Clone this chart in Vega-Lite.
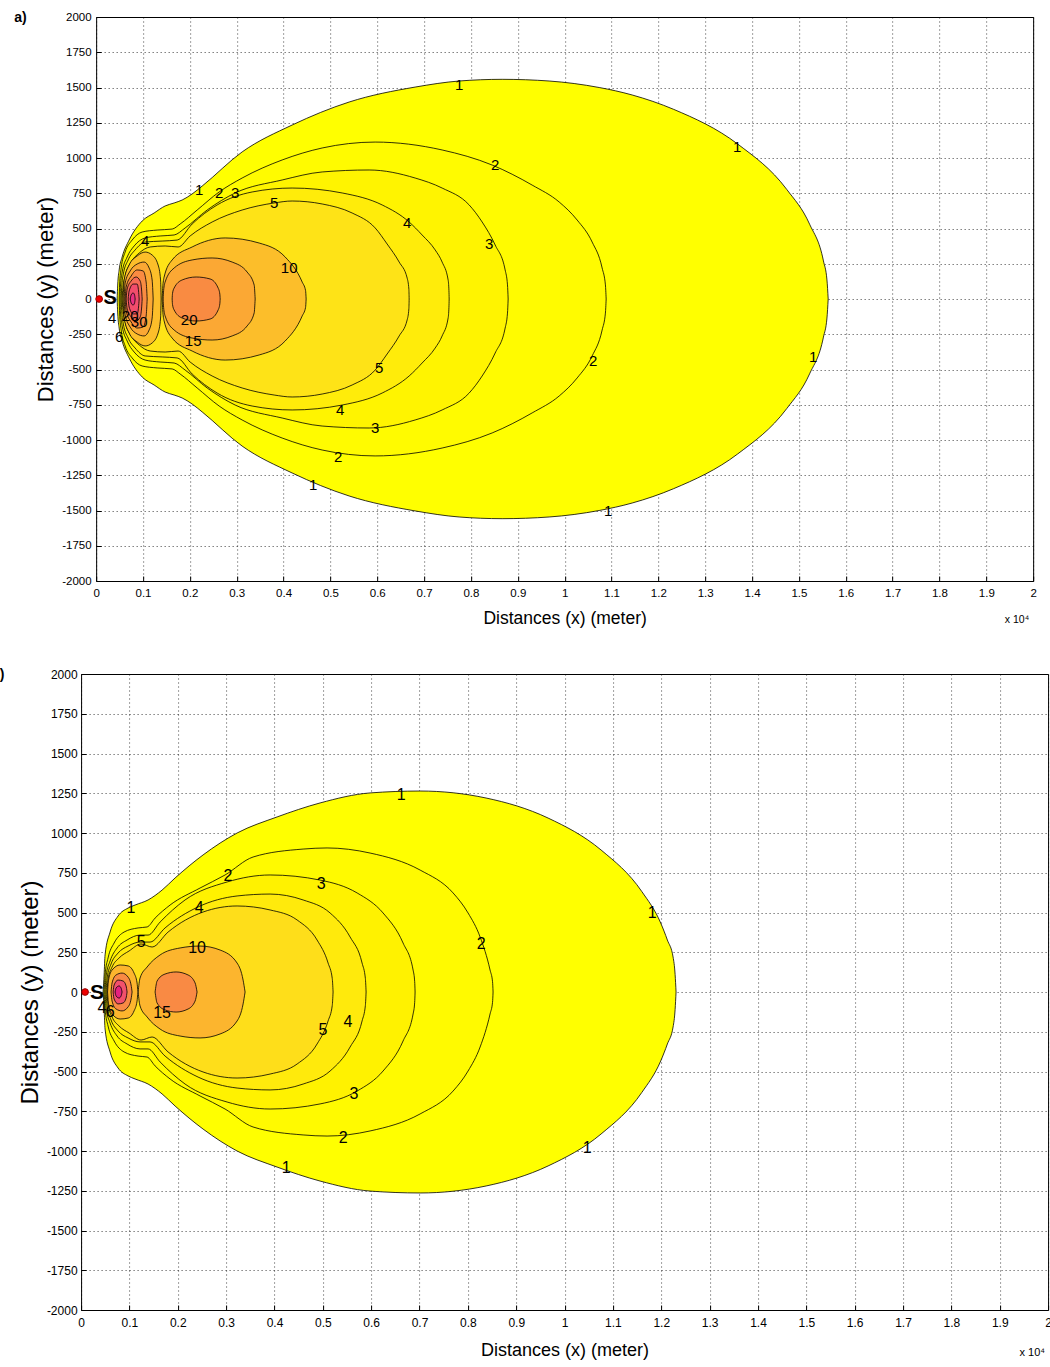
{
  "$schema": "https://vega.github.io/schema/vega-lite/v6.json",
  "padding": {"left": -10, "top": 10, "right": 0, "bottom": 0},
  "background": "white",
  "spacing": 39,
  "center": true,
  "config": {
    "view": {"stroke": "#000", "strokeWidth": 1},
    "axis": {
      "labelFont": "Liberation Sans", "labelFontSize": 11.5, "labelColor": "#000",
      "titleColor": "#000", "titleFontWeight": "normal",
      "grid": true, "gridColor": "#000", "gridDash": [1, 3], "gridOpacity": 0.75, "gridWidth": 1,
      "domain": false, "ticks": true, "tickColor": "#000", "tickSize": -5, "tickWidth": 1,
      "labelFlush": false, "labelOverlap": false, "zindex": 1
    }
  },
  "datasets": {
    "ca": [
      {"c":"a1","l":1,"x":448,"y":0,"y2":0},{"c":"a1","l":1,"x":460,"y":99,"y2":-99},{"c":"a1","l":1,"x":491,"y":206,"y2":-206},{"c":"a1","l":1,"x":555,"y":298,"y2":-298},{"c":"a1","l":1,"x":704,"y":418,"y2":-418},{"c":"a1","l":1,"x":982,"y":553,"y2":-553},{"c":"a1","l":1,"x":1238,"y":610,"y2":-610},{"c":"a1","l":1,"x":1473,"y":660,"y2":-660},{"c":"a1","l":1,"x":1665,"y":681,"y2":-681},{"c":"a1","l":1,"x":1836,"y":702,"y2":-702},{"c":"a1","l":1,"x":2049,"y":745,"y2":-745},{"c":"a1","l":1,"x":2263,"y":801,"y2":-801},{"c":"a1","l":1,"x":3116,"y":1043,"y2":-1043},{"c":"a1","l":1,"x":4184,"y":1234,"y2":-1234},{"c":"a1","l":1,"x":5400,"y":1397,"y2":-1397},{"c":"a1","l":1,"x":6809,"y":1503,"y2":-1503},{"c":"a1","l":1,"x":7748,"y":1546,"y2":-1546},{"c":"a1","l":1,"x":8666,"y":1558,"y2":-1558},{"c":"a1","l":1,"x":9669,"y":1546,"y2":-1546},{"c":"a1","l":1,"x":10737,"y":1500,"y2":-1500},{"c":"a1","l":1,"x":11441,"y":1447,"y2":-1447},{"c":"a1","l":1,"x":12327,"y":1345,"y2":-1345},{"c":"a1","l":1,"x":13693,"y":1099,"y2":-1099},{"c":"a1","l":1,"x":14741,"y":777,"y2":-777},{"c":"a1","l":1,"x":15228,"y":531,"y2":-531},{"c":"a1","l":1,"x":15524,"y":270,"y2":-270},{"c":"a1","l":1,"x":15599,"y":135,"y2":-135},{"c":"a1","l":1,"x":15625,"y":0,"y2":0},
      {"c":"a2","l":2,"x":491,"y":0,"y2":0},{"c":"a2","l":2,"x":500,"y":99,"y2":-99},{"c":"a2","l":2,"x":534,"y":220,"y2":-220},{"c":"a2","l":2,"x":619,"y":333,"y2":-333},{"c":"a2","l":2,"x":768,"y":418,"y2":-418},{"c":"a2","l":2,"x":982,"y":475,"y2":-475},{"c":"a2","l":2,"x":1302,"y":489,"y2":-489},{"c":"a2","l":2,"x":1622,"y":496,"y2":-496},{"c":"a2","l":2,"x":1793,"y":532,"y2":-532},{"c":"a2","l":2,"x":2156,"y":631,"y2":-631},{"c":"a2","l":2,"x":2625,"y":759,"y2":-759},{"c":"a2","l":2,"x":3116,"y":858,"y2":-858},{"c":"a2","l":2,"x":3970,"y":986,"y2":-986},{"c":"a2","l":2,"x":4824,"y":1071,"y2":-1071},{"c":"a2","l":2,"x":5955,"y":1113,"y2":-1113},{"c":"a2","l":2,"x":7385,"y":1057,"y2":-1057},{"c":"a2","l":2,"x":8453,"y":950,"y2":-950},{"c":"a2","l":2,"x":9306,"y":808,"y2":-808},{"c":"a2","l":2,"x":9883,"y":688,"y2":-688},{"c":"a2","l":2,"x":10267,"y":560,"y2":-560},{"c":"a2","l":2,"x":10587,"y":404,"y2":-404},{"c":"a2","l":2,"x":10800,"y":220,"y2":-220},{"c":"a2","l":2,"x":10870,"y":100,"y2":-100},{"c":"a2","l":2,"x":10886,"y":0,"y2":0},
      {"c":"a3","l":3,"x":512,"y":0,"y2":0},{"c":"a3","l":3,"x":520,"y":90,"y2":-90},{"c":"a3","l":3,"x":555,"y":191,"y2":-191},{"c":"a3","l":3,"x":662,"y":298,"y2":-298},{"c":"a3","l":3,"x":811,"y":376,"y2":-376},{"c":"a3","l":3,"x":1046,"y":433,"y2":-433},{"c":"a3","l":3,"x":1366,"y":447,"y2":-447},{"c":"a3","l":3,"x":1665,"y":454,"y2":-454},{"c":"a3","l":3,"x":1900,"y":504,"y2":-504},{"c":"a3","l":3,"x":2369,"y":631,"y2":-631},{"c":"a3","l":3,"x":2967,"y":752,"y2":-752},{"c":"a3","l":3,"x":3970,"y":844,"y2":-844},{"c":"a3","l":3,"x":4824,"y":901,"y2":-901},{"c":"a3","l":3,"x":5827,"y":915,"y2":-915},{"c":"a3","l":3,"x":6809,"y":858,"y2":-858},{"c":"a3","l":3,"x":7385,"y":787,"y2":-787},{"c":"a3","l":3,"x":7962,"y":667,"y2":-667},{"c":"a3","l":3,"x":8239,"y":546,"y2":-546},{"c":"a3","l":3,"x":8517,"y":383,"y2":-383},{"c":"a3","l":3,"x":8730,"y":206,"y2":-206},{"c":"a3","l":3,"x":8780,"y":100,"y2":-100},{"c":"a3","l":3,"x":8794,"y":0,"y2":0},
      {"c":"a4","l":4,"x":534,"y":0,"y2":0},{"c":"a4","l":4,"x":545,"y":80,"y2":-80},{"c":"a4","l":4,"x":576,"y":170,"y2":-170},{"c":"a4","l":4,"x":683,"y":277,"y2":-277},{"c":"a4","l":4,"x":832,"y":348,"y2":-348},{"c":"a4","l":4,"x":1046,"y":404,"y2":-404},{"c":"a4","l":4,"x":1409,"y":411,"y2":-411},{"c":"a4","l":4,"x":1729,"y":418,"y2":-418},{"c":"a4","l":4,"x":2049,"y":532,"y2":-532},{"c":"a4","l":4,"x":2583,"y":667,"y2":-667},{"c":"a4","l":4,"x":3330,"y":759,"y2":-759},{"c":"a4","l":4,"x":4184,"y":787,"y2":-787},{"c":"a4","l":4,"x":5251,"y":752,"y2":-752},{"c":"a4","l":4,"x":6105,"y":667,"y2":-667},{"c":"a4","l":4,"x":6681,"y":546,"y2":-546},{"c":"a4","l":4,"x":6958,"y":454,"y2":-454},{"c":"a4","l":4,"x":7236,"y":348,"y2":-348},{"c":"a4","l":4,"x":7385,"y":262,"y2":-262},{"c":"a4","l":4,"x":7513,"y":135,"y2":-135},{"c":"a4","l":4,"x":7530,"y":60,"y2":-60},{"c":"a4","l":4,"x":7535,"y":0,"y2":0},
      {"c":"a5","l":5,"x":555,"y":0,"y2":0},{"c":"a5","l":5,"x":570,"y":75,"y2":-75},{"c":"a5","l":5,"x":619,"y":163,"y2":-163},{"c":"a5","l":5,"x":747,"y":262,"y2":-262},{"c":"a5","l":5,"x":918,"y":326,"y2":-326},{"c":"a5","l":5,"x":1153,"y":369,"y2":-369},{"c":"a5","l":5,"x":1473,"y":376,"y2":-376},{"c":"a5","l":5,"x":1750,"y":369,"y2":-369},{"c":"a5","l":5,"x":2006,"y":447,"y2":-447},{"c":"a5","l":5,"x":2476,"y":546,"y2":-546},{"c":"a5","l":5,"x":3116,"y":631,"y2":-631},{"c":"a5","l":5,"x":3799,"y":681,"y2":-681},{"c":"a5","l":5,"x":4184,"y":695,"y2":-695},{"c":"a5","l":5,"x":4824,"y":674,"y2":-674},{"c":"a5","l":5,"x":5464,"y":610,"y2":-610},{"c":"a5","l":5,"x":5955,"y":504,"y2":-504},{"c":"a5","l":5,"x":6211,"y":390,"y2":-390},{"c":"a5","l":5,"x":6468,"y":262,"y2":-262},{"c":"a5","l":5,"x":6638,"y":149,"y2":-149},{"c":"a5","l":5,"x":6675,"y":70,"y2":-70},{"c":"a5","l":5,"x":6681,"y":0,"y2":0},
      {"c":"a10f","l":10,"x":1409,"y":0,"y2":0},{"c":"a10f","l":10,"x":1420,"y":75,"y2":-75},{"c":"a10f","l":10,"x":1451,"y":156,"y2":-156},{"c":"a10f","l":10,"x":1622,"y":277,"y2":-277},{"c":"a10f","l":10,"x":2049,"y":369,"y2":-369},{"c":"a10f","l":10,"x":2754,"y":433,"y2":-433},{"c":"a10f","l":10,"x":3479,"y":397,"y2":-397},{"c":"a10f","l":10,"x":4034,"y":298,"y2":-298},{"c":"a10f","l":10,"x":4397,"y":121,"y2":-121},{"c":"a10f","l":10,"x":4470,"y":60,"y2":-60},{"c":"a10f","l":10,"x":4482,"y":0,"y2":0},
      {"c":"a10n","l":10,"x":576,"y":0,"y2":0},{"c":"a10n","l":10,"x":598,"y":135,"y2":-135},{"c":"a10n","l":10,"x":704,"y":241,"y2":-241},{"c":"a10n","l":10,"x":875,"y":305,"y2":-305},{"c":"a10n","l":10,"x":1046,"y":333,"y2":-333},{"c":"a10n","l":10,"x":1195,"y":312,"y2":-312},{"c":"a10n","l":10,"x":1323,"y":241,"y2":-241},{"c":"a10n","l":10,"x":1375,"y":135,"y2":-135},{"c":"a10n","l":10,"x":1387,"y":0,"y2":0},
      {"c":"a15f","l":15,"x":1430,"y":0,"y2":0},{"c":"a15f","l":15,"x":1440,"y":60,"y2":-60},{"c":"a15f","l":15,"x":1473,"y":121,"y2":-121},{"c":"a15f","l":15,"x":1665,"y":220,"y2":-220},{"c":"a15f","l":15,"x":2049,"y":277,"y2":-277},{"c":"a15f","l":15,"x":2476,"y":291,"y2":-291},{"c":"a15f","l":15,"x":2903,"y":262,"y2":-262},{"c":"a15f","l":15,"x":3223,"y":191,"y2":-191},{"c":"a15f","l":15,"x":3373,"y":99,"y2":-99},{"c":"a15f","l":15,"x":3394,"y":0,"y2":0},
      {"c":"a15n","l":15,"x":598,"y":0,"y2":0},{"c":"a15n","l":15,"x":619,"y":113,"y2":-113},{"c":"a15n","l":15,"x":726,"y":199,"y2":-199},{"c":"a15n","l":15,"x":875,"y":248,"y2":-248},{"c":"a15n","l":15,"x":1025,"y":262,"y2":-262},{"c":"a15n","l":15,"x":1131,"y":220,"y2":-220},{"c":"a15n","l":15,"x":1195,"y":135,"y2":-135},{"c":"a15n","l":15,"x":1217,"y":0,"y2":0},
      {"c":"a20f","l":20,"x":1622,"y":0,"y2":0},{"c":"a20f","l":20,"x":1630,"y":40,"y2":-40},{"c":"a20f","l":20,"x":1665,"y":78,"y2":-78},{"c":"a20f","l":20,"x":1836,"y":135,"y2":-135},{"c":"a20f","l":20,"x":2134,"y":156,"y2":-156},{"c":"a20f","l":20,"x":2433,"y":142,"y2":-142},{"c":"a20f","l":20,"x":2604,"y":78,"y2":-78},{"c":"a20f","l":20,"x":2640,"y":35,"y2":-35},{"c":"a20f","l":20,"x":2647,"y":0,"y2":0},
      {"c":"a20n","l":20,"x":619,"y":0,"y2":0},{"c":"a20n","l":20,"x":640,"y":85,"y2":-85},{"c":"a20n","l":20,"x":747,"y":163,"y2":-163},{"c":"a20n","l":20,"x":875,"y":206,"y2":-206},{"c":"a20n","l":20,"x":1003,"y":199,"y2":-199},{"c":"a20n","l":20,"x":1067,"y":121,"y2":-121},{"c":"a20n","l":20,"x":1089,"y":0,"y2":0},
      {"c":"a30","l":30,"x":640,"y":0,"y2":0},{"c":"a30","l":30,"x":662,"y":71,"y2":-71},{"c":"a30","l":30,"x":747,"y":128,"y2":-128},{"c":"a30","l":30,"x":854,"y":156,"y2":-156},{"c":"a30","l":30,"x":939,"y":128,"y2":-128},{"c":"a30","l":30,"x":970,"y":64,"y2":-64},{"c":"a30","l":30,"x":982,"y":0,"y2":0},
      {"c":"a40","l":40,"x":683,"y":0,"y2":0},{"c":"a40","l":40,"x":704,"y":57,"y2":-57},{"c":"a40","l":40,"x":790,"y":106,"y2":-106},{"c":"a40","l":40,"x":875,"y":106,"y2":-106},{"c":"a40","l":40,"x":905,"y":57,"y2":-57},{"c":"a40","l":40,"x":918,"y":0,"y2":0},
      {"c":"a50","l":50,"x":726,"y":0,"y2":0},{"c":"a50","l":50,"x":747,"y":28,"y2":-28},{"c":"a50","l":50,"x":790,"y":43,"y2":-43},{"c":"a50","l":50,"x":820,"y":28,"y2":-28},{"c":"a50","l":50,"x":832,"y":0,"y2":0}
    ],
    "la": [
      {"t":"1","x":2199,"y":773},{"t":"1","x":7748,"y":1518},{"t":"1","x":13682,"y":1078},{"t":"1","x":15304,"y":-411},{"t":"1","x":4632,"y":-1319},{"t":"1","x":10929,"y":-1503},
      {"t":"2","x":2625,"y":752},{"t":"2","x":8517,"y":950},{"t":"2","x":10608,"y":-440},{"t":"2","x":5165,"y":-1121},
      {"t":"3","x":2967,"y":752},{"t":"3","x":8389,"y":390},{"t":"3","x":5955,"y":-915},
      {"t":"4","x":6638,"y":539},{"t":"4","x":5208,"y":-787},{"t":"4","x":1046,"y":411},
      {"t":"5","x":3799,"y":681},{"t":"5","x":6041,"y":-489},
      {"t":"10","x":4120,"y":220},{"t":"20","x":1985,"y":-149},{"t":"15","x":2070,"y":-298},
      {"t":"4","x":342,"y":-135},{"t":"20","x":726,"y":-121},{"t":"6","x":491,"y":-270},{"t":"30","x":918,"y":-163}
    ],
    "cb": [
      {"c":"b1","l":1,"x":455,"y":0,"y2":0},{"c":"b1","l":1,"x":476,"y":107,"y2":-107},{"c":"b1","l":1,"x":496,"y":233,"y2":-233},{"c":"b1","l":1,"x":600,"y":377,"y2":-377},{"c":"b1","l":1,"x":765,"y":478,"y2":-478},{"c":"b1","l":1,"x":972,"y":528,"y2":-528},{"c":"b1","l":1,"x":1117,"y":547,"y2":-547},{"c":"b1","l":1,"x":1386,"y":579,"y2":-579},{"c":"b1","l":1,"x":1675,"y":641,"y2":-641},{"c":"b1","l":1,"x":1944,"y":717,"y2":-717},{"c":"b1","l":1,"x":2523,"y":862,"y2":-862},{"c":"b1","l":1,"x":3227,"y":1000,"y2":-1000},{"c":"b1","l":1,"x":4054,"y":1101,"y2":-1101},{"c":"b1","l":1,"x":4943,"y":1189,"y2":-1189},{"c":"b1","l":1,"x":5977,"y":1252,"y2":-1252},{"c":"b1","l":1,"x":7012,"y":1264,"y2":-1264},{"c":"b1","l":1,"x":8377,"y":1220,"y2":-1220},{"c":"b1","l":1,"x":9659,"y":1094,"y2":-1094},{"c":"b1","l":1,"x":10755,"y":893,"y2":-893},{"c":"b1","l":1,"x":11597,"y":632,"y2":-632},{"c":"b1","l":1,"x":11988,"y":434,"y2":-434},{"c":"b1","l":1,"x":12126,"y":327,"y2":-327},{"c":"b1","l":1,"x":12244,"y":220,"y2":-220},{"c":"b1","l":1,"x":12286,"y":110,"y2":-110},{"c":"b1","l":1,"x":12306,"y":0,"y2":0},
      {"c":"b2","l":2,"x":476,"y":0,"y2":0},{"c":"b2","l":2,"x":496,"y":107,"y2":-107},{"c":"b2","l":2,"x":558,"y":214,"y2":-214},{"c":"b2","l":2,"x":683,"y":308,"y2":-308},{"c":"b2","l":2,"x":889,"y":377,"y2":-377},{"c":"b2","l":2,"x":1179,"y":403,"y2":-403},{"c":"b2","l":2,"x":1365,"y":409,"y2":-409},{"c":"b2","l":2,"x":1531,"y":465,"y2":-465},{"c":"b2","l":2,"x":1841,"y":547,"y2":-547},{"c":"b2","l":2,"x":2461,"y":654,"y2":-654},{"c":"b2","l":2,"x":2978,"y":736,"y2":-736},{"c":"b2","l":2,"x":3557,"y":849,"y2":-849},{"c":"b2","l":2,"x":4592,"y":899,"y2":-899},{"c":"b2","l":2,"x":5088,"y":906,"y2":-906},{"c":"b2","l":2,"x":5977,"y":874,"y2":-874},{"c":"b2","l":2,"x":7012,"y":767,"y2":-767},{"c":"b2","l":2,"x":7694,"y":623,"y2":-623},{"c":"b2","l":2,"x":8004,"y":497,"y2":-497},{"c":"b2","l":2,"x":8253,"y":346,"y2":-346},{"c":"b2","l":2,"x":8459,"y":138,"y2":-138},{"c":"b2","l":2,"x":8510,"y":65,"y2":-65},{"c":"b2","l":2,"x":8521,"y":0,"y2":0},
      {"c":"b3","l":3,"x":496,"y":0,"y2":0},{"c":"b3","l":3,"x":517,"y":101,"y2":-101},{"c":"b3","l":3,"x":600,"y":195,"y2":-195},{"c":"b3","l":3,"x":745,"y":277,"y2":-277},{"c":"b3","l":3,"x":951,"y":327,"y2":-327},{"c":"b3","l":3,"x":1220,"y":358,"y2":-358},{"c":"b3","l":3,"x":1386,"y":358,"y2":-358},{"c":"b3","l":3,"x":1634,"y":440,"y2":-440},{"c":"b3","l":3,"x":2151,"y":579,"y2":-579},{"c":"b3","l":3,"x":3020,"y":692,"y2":-692},{"c":"b3","l":3,"x":3909,"y":736,"y2":-736},{"c":"b3","l":3,"x":4943,"y":704,"y2":-704},{"c":"b3","l":3,"x":5709,"y":623,"y2":-623},{"c":"b3","l":3,"x":6246,"y":497,"y2":-497},{"c":"b3","l":3,"x":6660,"y":308,"y2":-308},{"c":"b3","l":3,"x":6867,"y":138,"y2":-138},{"c":"b3","l":3,"x":6900,"y":65,"y2":-65},{"c":"b3","l":3,"x":6908,"y":0,"y2":0},
      {"c":"b4","l":4,"x":517,"y":0,"y2":0},{"c":"b4","l":4,"x":538,"y":88,"y2":-88},{"c":"b4","l":4,"x":620,"y":176,"y2":-176},{"c":"b4","l":4,"x":765,"y":245,"y2":-245},{"c":"b4","l":4,"x":972,"y":289,"y2":-289},{"c":"b4","l":4,"x":1220,"y":314,"y2":-314},{"c":"b4","l":4,"x":1427,"y":314,"y2":-314},{"c":"b4","l":4,"x":1737,"y":403,"y2":-403},{"c":"b4","l":4,"x":2420,"y":535,"y2":-535},{"c":"b4","l":4,"x":3227,"y":604,"y2":-604},{"c":"b4","l":4,"x":3909,"y":616,"y2":-616},{"c":"b4","l":4,"x":4592,"y":579,"y2":-579},{"c":"b4","l":4,"x":5150,"y":497,"y2":-497},{"c":"b4","l":4,"x":5564,"y":346,"y2":-346},{"c":"b4","l":4,"x":5812,"y":182,"y2":-182},{"c":"b4","l":4,"x":5880,"y":85,"y2":-85},{"c":"b4","l":4,"x":5895,"y":0,"y2":0},
      {"c":"b5","l":5,"x":538,"y":0,"y2":0},{"c":"b5","l":5,"x":558,"y":82,"y2":-82},{"c":"b5","l":5,"x":641,"y":157,"y2":-157},{"c":"b5","l":5,"x":786,"y":214,"y2":-214},{"c":"b5","l":5,"x":993,"y":258,"y2":-258},{"c":"b5","l":5,"x":1241,"y":302,"y2":-302},{"c":"b5","l":5,"x":1469,"y":283,"y2":-283},{"c":"b5","l":5,"x":1799,"y":377,"y2":-377},{"c":"b5","l":5,"x":2523,"y":503,"y2":-503},{"c":"b5","l":5,"x":3227,"y":541,"y2":-541},{"c":"b5","l":5,"x":3909,"y":516,"y2":-516},{"c":"b5","l":5,"x":4468,"y":453,"y2":-453},{"c":"b5","l":5,"x":4881,"y":327,"y2":-327},{"c":"b5","l":5,"x":5109,"y":182,"y2":-182},{"c":"b5","l":5,"x":5195,"y":85,"y2":-85},{"c":"b5","l":5,"x":5212,"y":0,"y2":0},
      {"c":"b10f","l":10,"x":1179,"y":0,"y2":0},{"c":"b10f","l":10,"x":1220,"y":88,"y2":-88},{"c":"b10f","l":10,"x":1365,"y":157,"y2":-157},{"c":"b10f","l":10,"x":1634,"y":233,"y2":-233},{"c":"b10f","l":10,"x":2048,"y":277,"y2":-277},{"c":"b10f","l":10,"x":2461,"y":289,"y2":-289},{"c":"b10f","l":10,"x":2875,"y":264,"y2":-264},{"c":"b10f","l":10,"x":3227,"y":182,"y2":-182},{"c":"b10f","l":10,"x":3351,"y":75,"y2":-75},{"c":"b10f","l":10,"x":3392,"y":0,"y2":0},
      {"c":"b10n","l":10,"x":548,"y":0,"y2":0},{"c":"b10n","l":10,"x":568,"y":75,"y2":-75},{"c":"b10n","l":10,"x":641,"y":138,"y2":-138},{"c":"b10n","l":10,"x":807,"y":170,"y2":-170},{"c":"b10n","l":10,"x":972,"y":164,"y2":-164},{"c":"b10n","l":10,"x":1096,"y":119,"y2":-119},{"c":"b10n","l":10,"x":1158,"y":57,"y2":-57},{"c":"b10n","l":10,"x":1175,"y":0,"y2":0},
      {"c":"b15f","l":15,"x":1531,"y":0,"y2":0},{"c":"b15f","l":15,"x":1572,"y":69,"y2":-69},{"c":"b15f","l":15,"x":1737,"y":113,"y2":-113},{"c":"b15f","l":15,"x":1965,"y":126,"y2":-126},{"c":"b15f","l":15,"x":2213,"y":107,"y2":-107},{"c":"b15f","l":15,"x":2358,"y":57,"y2":-57},{"c":"b15f","l":15,"x":2399,"y":0,"y2":0},
      {"c":"b15n","l":15,"x":620,"y":0,"y2":0},{"c":"b15n","l":15,"x":641,"y":57,"y2":-57},{"c":"b15n","l":15,"x":724,"y":107,"y2":-107},{"c":"b15n","l":15,"x":848,"y":119,"y2":-119},{"c":"b15n","l":15,"x":972,"y":94,"y2":-94},{"c":"b15n","l":15,"x":1034,"y":44,"y2":-44},{"c":"b15n","l":15,"x":1055,"y":0,"y2":0},
      {"c":"b20","l":20,"x":662,"y":0,"y2":0},{"c":"b20","l":20,"x":683,"y":44,"y2":-44},{"c":"b20","l":20,"x":765,"y":75,"y2":-75},{"c":"b20","l":20,"x":869,"y":69,"y2":-69},{"c":"b20","l":20,"x":931,"y":38,"y2":-38},{"c":"b20","l":20,"x":951,"y":0,"y2":0},
      {"c":"b30","l":30,"x":703,"y":0,"y2":0},{"c":"b30","l":30,"x":724,"y":25,"y2":-25},{"c":"b30","l":30,"x":786,"y":38,"y2":-38},{"c":"b30","l":30,"x":827,"y":25,"y2":-25},{"c":"b30","l":30,"x":848,"y":0,"y2":0}
    ],
    "lb": [
      {"t":"1","x":6619,"y":1239},{"t":"1","x":11810,"y":497},{"t":"1","x":10466,"y":-981},{"t":"1","x":4240,"y":-1107},{"t":"1","x":1034,"y":528},
      {"t":"2","x":3040,"y":730},{"t":"2","x":8273,"y":302},{"t":"2","x":5419,"y":-918},
      {"t":"3","x":4964,"y":679},{"t":"3","x":5646,"y":-641},
      {"t":"4","x":2441,"y":528},{"t":"4","x":5522,"y":-189},
      {"t":"5","x":1241,"y":314},{"t":"5","x":5005,"y":-239},
      {"t":"10","x":2399,"y":277},{"t":"15","x":1675,"y":-132},
      {"t":"4","x":434,"y":-101},{"t":"6","x":600,"y":-126}
    ]
  },
  "vconcat": [
    {
      "width": 937, "height": 564,
      "title": {"text": "a)", "orient": "top", "anchor": "start", "frame": "group", "baseline": "top", "offset": 0, "dx": -82, "dy": 14, "fontSize": 14, "fontWeight": "bold", "font": "Liberation Sans", "color": "#000"},
      "encoding": {
        "x": {"field": "x", "type": "quantitative", "scale": {"domain": [0, 20000], "nice": false, "zero": false},
              "axis": {"title": "Distances (x) (meter)", "values": [0,1000,2000,3000,4000,5000,6000,7000,8000,9000,10000,11000,12000,13000,14000,15000,16000,17000,18000,19000,20000], "labelExpr": "'' + datum.value/10000", "labelPadding": 11, "titleFont": "Liberation Sans", "titleFontSize": 17.5, "titlePadding": 11}},
        "y": {"field": "y", "type": "quantitative", "scale": {"domain": [-2000, 2000], "nice": false, "zero": false},
              "axis": {"title": "Distances (y) (meter)", "values": [-2000,-1750,-1500,-1250,-1000,-750,-500,-250,0,250,500,750,1000,1250,1500,1750,2000], "labelExpr": "'' + datum.value", "labelPadding": 10, "titleFont": "Liberation Sans", "titleFontSize": 22, "titlePadding": 4}}
      },
      "layer": [
        {"data": {"name": "ca"}, "mark": {"type": "area", "interpolate": "monotone", "stroke": "#000", "strokeWidth": 0.8, "fillOpacity": 1},
         "encoding": {"y2": {"field": "y2"}, "detail": {"field": "c"},
           "fill": {"field": "l", "type": "ordinal", "legend": null, "scale": {"domain": [1,2,3,4,5,10,15,20,30,40,50], "range": ["#FFFF00","#FFFB00","#FFF400","#FFEC0A","#FEE317","#FCBE2A","#FBA834","#F98B42","#F66A55","#F24D6C","#EA3082"]}}}},
        {"data": {"name": "la"}, "mark": {"type": "text", "font": "Liberation Sans", "fontSize": 15, "color": "#000"}, "encoding": {"text": {"field": "t"}}},
        {"data": {"values": [{"x": 64, "y": 0}]}, "mark": {"type": "circle", "color": "#EE0000", "size": 45, "opacity": 1, "stroke": "#990000", "strokeWidth": 1}},
        {"data": {"values": [{"x": 299, "y": 7, "t": "S"}]}, "mark": {"type": "text", "font": "Liberation Sans", "fontWeight": "bold", "fontSize": 20, "color": "#000"}, "encoding": {"text": {"field": "t"}}},
        {"data": {"values": [{"x": 20000, "y": -2000, "t": "x 10⁴"}]}, "mark": {"type": "text", "font": "Liberation Sans", "fontSize": 10.5, "align": "right", "dx": -4, "dy": 39, "color": "#000"}, "encoding": {"text": {"field": "t"}}}
      ]
    },
    {
      "width": 967, "height": 636,
      "title": {"text": "b)", "orient": "top", "anchor": "start", "frame": "group", "baseline": "top", "offset": 0, "dx": -90, "dy": 14, "fontSize": 14, "fontWeight": "bold", "font": "Liberation Sans", "color": "#000"},
      "encoding": {
        "x": {"field": "x", "type": "quantitative", "scale": {"domain": [0, 20000], "nice": false, "zero": false},
              "axis": {"title": "Distances (x) (meter)", "values": [0,1000,2000,3000,4000,5000,6000,7000,8000,9000,10000,11000,12000,13000,14000,15000,16000,17000,18000,19000,20000], "labelExpr": "'' + datum.value/10000", "labelPadding": 12, "labelFontSize": 12, "titleFont": "Liberation Sans", "titleFontSize": 18, "titlePadding": 13}},
        "y": {"field": "y", "type": "quantitative", "scale": {"domain": [-2000, 2000], "nice": false, "zero": false},
              "axis": {"title": "Distances (y) (meter)", "values": [-2000,-1750,-1500,-1250,-1000,-750,-500,-250,0,250,500,750,1000,1250,1500,1750,2000], "labelExpr": "'' + datum.value", "labelPadding": 9, "labelFontSize": 12, "titleFont": "Liberation Sans", "titleFontSize": 24, "titlePadding": 4}}
      },
      "layer": [
        {"data": {"name": "cb"}, "mark": {"type": "area", "interpolate": "monotone", "stroke": "#000", "strokeWidth": 0.8, "fillOpacity": 1},
         "encoding": {"y2": {"field": "y2"}, "detail": {"field": "c"},
           "fill": {"field": "l", "type": "ordinal", "legend": null, "scale": {"domain": [1,2,3,4,5,10,15,20,30], "range": ["#FFFF00","#FFFA00","#FFF200","#FFEA0C","#FEDE1A","#FCB52E","#F98A44","#F2506C","#E5217F"]}}}},
        {"data": {"name": "lb"}, "mark": {"type": "text", "font": "Liberation Sans", "fontSize": 16, "color": "#000"}, "encoding": {"text": {"field": "t"}}},
        {"data": {"values": [{"x": 83, "y": 0}]}, "mark": {"type": "circle", "color": "#EE0000", "size": 45, "opacity": 1, "stroke": "#990000", "strokeWidth": 1}},
        {"data": {"values": [{"x": 331, "y": -6, "t": "S"}]}, "mark": {"type": "text", "font": "Liberation Sans", "fontWeight": "bold", "fontSize": 21, "color": "#000"}, "encoding": {"text": {"field": "t"}}},
        {"data": {"values": [{"x": 20000, "y": -2000, "t": "x 10⁴"}]}, "mark": {"type": "text", "font": "Liberation Sans", "fontSize": 11, "align": "right", "dx": -3, "dy": 43, "color": "#000"}, "encoding": {"text": {"field": "t"}}}
      ]
    }
  ],
  "resolve": {"scale": {"fill": "independent"}}
}
